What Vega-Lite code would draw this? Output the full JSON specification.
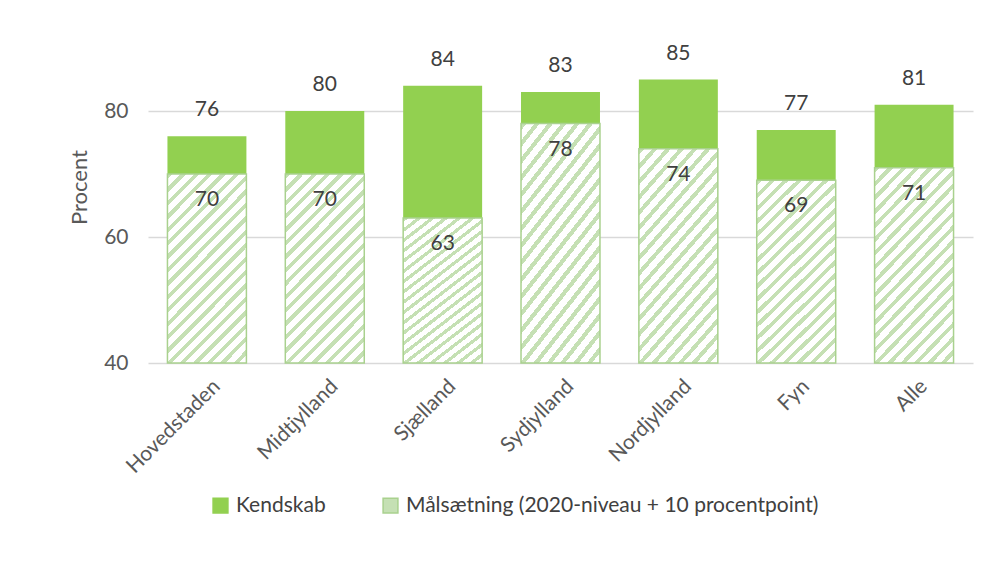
{
  "$schema": "https://vega.github.io/schema/vega-lite/v6.json",
  "autosize": {"type": "none"},
  "width": 825,
  "height": 315,
  "padding": {"left": 148, "top": 48, "right": 15, "bottom": 212},
  "background": "white",
  "config": {
    "font": "Lato",
    "view": {"stroke": null},
    "axis": {"labelFont": "Lato", "titleFont": "Lato"}
  },
  "data": {
    "values": [
      {"region": "Hovedstaden", "kendskab": 76, "maal": 70},
      {"region": "Midtjylland", "kendskab": 80, "maal": 70},
      {"region": "Sjælland", "kendskab": 84, "maal": 63},
      {"region": "Sydjylland", "kendskab": 83, "maal": 78},
      {"region": "Nordjylland", "kendskab": 85, "maal": 74},
      {"region": "Fyn", "kendskab": 77, "maal": 69},
      {"region": "Alle", "kendskab": 81, "maal": 71}
    ]
  },
  "encoding": {
    "x": {
      "field": "region",
      "type": "nominal",
      "sort": null,
      "scale": {"paddingInner": 0.33, "paddingOuter": 0.165},
      "axis": {
        "title": null,
        "labelAngle": -45,
        "labelAlign": "right",
        "labelBaseline": "middle",
        "labelFontSize": 21,
        "labelColor": "#595959",
        "labelPadding": 20,
        "labelOffset": 10,
        "ticks": false,
        "domain": false
      }
    }
  },
  "layer": [
    {
      "mark": {"type": "bar"},
      "encoding": {
        "y": {
          "field": "kendskab",
          "type": "quantitative",
          "scale": {"domain": [40, 90], "zero": false, "nice": false},
          "axis": {
            "title": "Procent",
            "titleFontSize": 22,
            "titleFontWeight": "normal",
            "titleColor": "#595959",
            "titlePadding": 12,
            "titleY": 139,
            "values": [40, 60, 80],
            "labelFontSize": 21,
            "labelColor": "#595959",
            "labelPadding": 20,
            "ticks": false,
            "domain": false,
            "grid": true,
            "gridColor": "#d9d9d9",
            "gridWidth": 1.3
          }
        },
        "y2": {"datum": 40},
        "color": {
          "datum": "Kendskab",
          "type": "nominal",
          "scale": {
            "domain": ["Kendskab", "Målsætning (2020-niveau + 10 procentpoint)"],
            "range": ["#92d050", "#c5e0b4"]
          },
          "legend": {
            "title": null,
            "orient": "none",
            "legendX": 62,
            "legendY": 447,
            "direction": "horizontal",
            "symbolType": "square",
            "symbolSize": 220,
            "symbolStrokeWidth": 1.5,
            "labelFontSize": 21,
            "labelColor": "#404040",
            "labelFont": "Lato",
            "columnPadding": 54,
            "labelOffset": 5,
            "labelLimit": 600,
            "encode": {
              "symbols": {
                "update": {
                  "fill": [
                    {"test": "datum.index === 1", "value": {"gradient": "linear", "x1": 0, "y1": 0, "x2": 1, "y2": 1, "stops": [
                      {"offset": 0, "color": "#c5e0b4"}, {"offset": 0.4, "color": "#c5e0b4"},
                      {"offset": 0.4, "color": "#ffffff"}, {"offset": 0.6, "color": "#ffffff"},
                      {"offset": 0.6, "color": "#c5e0b4"}, {"offset": 1, "color": "#c5e0b4"}
                    ]}},
                    {"value": "#92d050"}
                  ],
                  "stroke": [
                    {"test": "datum.index === 1", "value": "#a9d18e"},
                    {"value": "#92d050"}
                  ]
                }
              }
            }
          }
        }
      }
    },
    {
      "mark": {"type": "bar", "stroke": "#a9d18e", "strokeWidth": 1.5},
      "encoding": {
        "y": {"field": "maal", "type": "quantitative"},
        "y2": {"datum": 40},
        "color": {"datum": "Målsætning (2020-niveau + 10 procentpoint)", "type": "nominal"},
        "fill": {
          "value": {
            "gradient": "linear",
            "x1": 0, "y1": 0, "x2": 0.507, "y2": 1.207,
            "stops": [
              {"offset": 0, "color": "#c5e0b4"}, {"offset": 0.02, "color": "#c5e0b4"}, {"offset": 0.02, "color": "#ffffff"}, {"offset": 0.05, "color": "#ffffff"},
              {"offset": 0.05, "color": "#c5e0b4"}, {"offset": 0.07, "color": "#c5e0b4"}, {"offset": 0.07, "color": "#ffffff"}, {"offset": 0.1, "color": "#ffffff"},
              {"offset": 0.1, "color": "#c5e0b4"}, {"offset": 0.12, "color": "#c5e0b4"}, {"offset": 0.12, "color": "#ffffff"}, {"offset": 0.15, "color": "#ffffff"},
              {"offset": 0.15, "color": "#c5e0b4"}, {"offset": 0.17, "color": "#c5e0b4"}, {"offset": 0.17, "color": "#ffffff"}, {"offset": 0.2, "color": "#ffffff"},
              {"offset": 0.2, "color": "#c5e0b4"}, {"offset": 0.22, "color": "#c5e0b4"}, {"offset": 0.22, "color": "#ffffff"}, {"offset": 0.25, "color": "#ffffff"},
              {"offset": 0.25, "color": "#c5e0b4"}, {"offset": 0.27, "color": "#c5e0b4"}, {"offset": 0.27, "color": "#ffffff"}, {"offset": 0.3, "color": "#ffffff"},
              {"offset": 0.3, "color": "#c5e0b4"}, {"offset": 0.32, "color": "#c5e0b4"}, {"offset": 0.32, "color": "#ffffff"}, {"offset": 0.35, "color": "#ffffff"},
              {"offset": 0.35, "color": "#c5e0b4"}, {"offset": 0.37, "color": "#c5e0b4"}, {"offset": 0.37, "color": "#ffffff"}, {"offset": 0.4, "color": "#ffffff"},
              {"offset": 0.4, "color": "#c5e0b4"}, {"offset": 0.42, "color": "#c5e0b4"}, {"offset": 0.42, "color": "#ffffff"}, {"offset": 0.45, "color": "#ffffff"},
              {"offset": 0.45, "color": "#c5e0b4"}, {"offset": 0.47, "color": "#c5e0b4"}, {"offset": 0.47, "color": "#ffffff"}, {"offset": 0.5, "color": "#ffffff"},
              {"offset": 0.5, "color": "#c5e0b4"}, {"offset": 0.52, "color": "#c5e0b4"}, {"offset": 0.52, "color": "#ffffff"}, {"offset": 0.55, "color": "#ffffff"},
              {"offset": 0.55, "color": "#c5e0b4"}, {"offset": 0.57, "color": "#c5e0b4"}, {"offset": 0.57, "color": "#ffffff"}, {"offset": 0.6, "color": "#ffffff"},
              {"offset": 0.6, "color": "#c5e0b4"}, {"offset": 0.62, "color": "#c5e0b4"}, {"offset": 0.62, "color": "#ffffff"}, {"offset": 0.65, "color": "#ffffff"},
              {"offset": 0.65, "color": "#c5e0b4"}, {"offset": 0.67, "color": "#c5e0b4"}, {"offset": 0.67, "color": "#ffffff"}, {"offset": 0.7, "color": "#ffffff"},
              {"offset": 0.7, "color": "#c5e0b4"}, {"offset": 0.72, "color": "#c5e0b4"}, {"offset": 0.72, "color": "#ffffff"}, {"offset": 0.75, "color": "#ffffff"},
              {"offset": 0.75, "color": "#c5e0b4"}, {"offset": 0.77, "color": "#c5e0b4"}, {"offset": 0.77, "color": "#ffffff"}, {"offset": 0.8, "color": "#ffffff"},
              {"offset": 0.8, "color": "#c5e0b4"}, {"offset": 0.82, "color": "#c5e0b4"}, {"offset": 0.82, "color": "#ffffff"}, {"offset": 0.85, "color": "#ffffff"},
              {"offset": 0.85, "color": "#c5e0b4"}, {"offset": 0.87, "color": "#c5e0b4"}, {"offset": 0.87, "color": "#ffffff"}, {"offset": 0.9, "color": "#ffffff"},
              {"offset": 0.9, "color": "#c5e0b4"}, {"offset": 0.92, "color": "#c5e0b4"}, {"offset": 0.92, "color": "#ffffff"}, {"offset": 0.95, "color": "#ffffff"},
              {"offset": 0.95, "color": "#c5e0b4"}, {"offset": 0.97, "color": "#c5e0b4"}, {"offset": 0.97, "color": "#ffffff"}, {"offset": 1, "color": "#ffffff"}
            ]
          }
        }
      }
    },
    {
      "mark": {"type": "text", "dy": -26, "fontSize": 21, "color": "#404040", "font": "Lato"},
      "encoding": {
        "y": {"field": "kendskab", "type": "quantitative"},
        "text": {"field": "kendskab", "type": "quantitative"}
      }
    },
    {
      "mark": {"type": "text", "dy": 26, "fontSize": 21, "color": "#404040", "font": "Lato"},
      "encoding": {
        "y": {"field": "maal", "type": "quantitative"},
        "text": {"field": "maal", "type": "quantitative"}
      }
    }
  ]
}
